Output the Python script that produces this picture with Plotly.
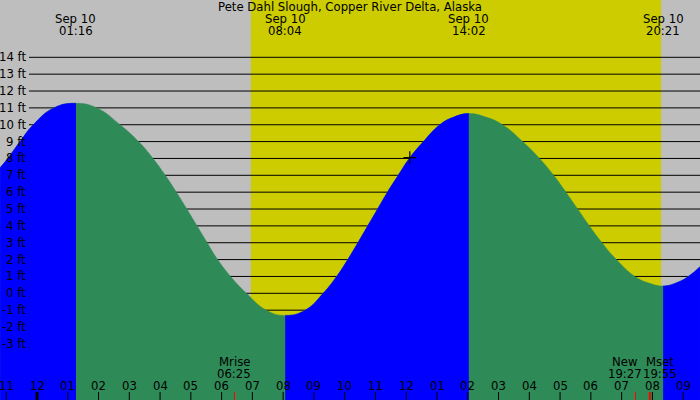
"""
Tide chart for Pete Dahl Slough, Copper River Delta, Alaska (Sep 10).
Hours are counted from midnight on Sep 10.
"""

import plotly.graph_objects as go

# data
TITLE = "Pete Dahl Slough, Copper River Delta, Alaska"

# water level (ft) against time (hours after midnight)
TIDE_T = [-1.20, -0.95, -0.55, -0.12, 0.55, 1.27, 1.94, 2.70, 3.30, 3.77, 4.17, 4.53,
          4.87, 5.20, 5.53, 5.87, 6.29, 6.81, 7.45, 8.07, 8.72, 9.30, 9.74, 10.10,
          10.43, 10.75, 11.07, 11.39, 11.74, 12.10, 12.56, 13.09, 13.53, 14.03, 14.61,
          15.13, 15.78, 16.33, 16.79, 17.19, 17.57, 17.95, 18.36, 18.83, 19.43, 19.92,
          20.35, 20.79, 21.17, 21.55]
TIDE_H = [7.45, 8.0, 9.0, 10.0, 11.0, 11.27, 11.0, 10.0, 9.0, 8.0, 7.0, 6.0,
          5.0, 4.0, 3.0, 2.0, 1.0, 0.0, -1.0, -1.31, -1.0, 0.0, 1.0, 2.0,
          3.0, 4.0, 5.0, 6.0, 7.0, 8.0, 9.0, 10.0, 10.44, 10.66, 10.44,
          10.0, 9.0, 8.0, 7.0, 6.0, 5.0, 4.0, 3.0, 2.0, 1.0, 0.59,
          0.43, 0.63, 1.0, 1.58]

# high / low tide times (labels at the top), alternating high, low, high, low
TIDE_TIMES = ["01:16", "08:04", "14:02", "20:21"]
TIDE_DAY = "Sep 10"

# moon events at the bottom
MOON_NAMES = ["Mrise", "New", "Mset"]
MOON_TIMES = ["06:25", "19:27", "19:55"]

SUNRISE = "06:57"
SUNSET = "20:17"

NOW_TIME = "12:07"
NOW_HEIGHT = 8.05

FT_LEVELS = list(range(-3, 15))
HOUR_TICKS = list(range(-1, 22))
HOUR_LABELS = ["11", "12", "01", "02", "03", "04", "05", "06", "07", "08", "09", "10",
               "11", "12", "01", "02", "03", "04", "05", "06", "07", "08", "09"]

# colours
GRAY = "#bebebe"
YELLOW = "#cccc00"
BLUE = "#0000ff"
GREEN = "#2e8b57"
FONT = dict(family="DejaVu Sans", size=11.7, color="black")

X_RANGE = [-1.2025, 21.547]
Y_RANGE = [-6.33, 17.40]
FLOOR = -8


def hours(hhmm):
    """'hh:mm' -> decimal hours"""
    h, m = hhmm.split(":")
    return int(h) + int(m) / 60


def domain_of(t0, t1):
    """part of the page width covered by the times t0..t1"""
    span = X_RANGE[1] - X_RANGE[0]
    return [(t0 - X_RANGE[0]) / span, (t1 - X_RANGE[0]) / span]


def water(xaxis, col):
    """the whole tide curve filled down to the floor, on the given x axis"""
    base = go.Scatter(x=[TIDE_T[0], TIDE_T[-1]], y=[FLOOR, FLOOR], mode="lines",
                      line=dict(width=0, color=col), xaxis=xaxis, hoverinfo="skip")
    curve = go.Scatter(x=TIDE_T, y=TIDE_H, mode="lines", fill="tonexty", fillcolor=col,
                       line=dict(width=0.5, color=col, shape="spline", smoothing=1.3),
                       xaxis=xaxis)
    return [base, curve]


fig = go.Figure()

# falling water (green) everywhere, then rising water (blue) clipped to
# sub-plots that only cover the rising stretches
fig.add_traces(water("x", GREEN))

extremes = [hours(t) for t in TIDE_TIMES]
rising = [(X_RANGE[0], extremes[0]), (extremes[1], extremes[2]), (extremes[3], X_RANGE[1])]
axes = {}
for i, (t0, t1) in enumerate(rising, start=2):
    fig.add_traces(water(f"x{i}", BLUE))
    axes[f"xaxis{i}"] = dict(domain=domain_of(t0, t1), range=[t0, t1], anchor="y",
                             visible=False, fixedrange=True)

# current level marker, on a full width axis drawn last
last = len(rising) + 2
fig.add_trace(go.Scatter(x=[hours(NOW_TIME)], y=[NOW_HEIGHT], mode="markers",
                         xaxis=f"x{last}",
                         marker=dict(symbol="cross-thin", size=9,
                                     line=dict(width=1.2, color="black"))))
axes[f"xaxis{last}"] = dict(domain=[0, 1], range=X_RANGE, anchor="y", visible=False,
                            fixedrange=True)

shapes = [dict(type="rect", xref="x", yref="paper", x0=hours(SUNRISE), x1=hours(SUNSET),
               y0=0, y1=1, fillcolor=YELLOW, line=dict(width=0), layer="below")]
for lv in FT_LEVELS:
    shapes.append(dict(type="line", xref="paper", yref="y", x0=29 / 700, x1=1, y0=lv, y1=lv,
                       line=dict(color="black", width=1), layer="below"))
# hour ticks (midnight one thicker)
for hv in HOUR_TICKS:
    shapes.append(dict(type="line", xref="x", yref="paper", x0=hv, x1=hv, y0=0, y1=8 / 400,
                       line=dict(color="black", width=3 if hv == 0 else 1)))
for name, tm in zip(MOON_NAMES, MOON_TIMES):
    shapes.append(dict(type="line", xref="x", yref="paper", x0=hours(tm), x1=hours(tm),
                       y0=0, y1=8 / 400,
                       line=dict(color="red", width=2 if name == "Mset" else 1)))

annotations = [dict(text=TITLE, xref="paper", yref="paper", x=0.5, y=1 - 7 / 400,
                    showarrow=False, font=FONT, yanchor="middle")]
for lv in FT_LEVELS:
    annotations.append(dict(text=f"{lv} ft", xref="paper", yref="y", x=27.5 / 700, y=lv,
                            xanchor="right", yanchor="middle", showarrow=False, font=FONT))
for tm in TIDE_TIMES:
    annotations.append(dict(text=TIDE_DAY, xref="x", yref="paper", x=hours(tm), y=1 - 19 / 400,
                            yanchor="middle", showarrow=False, font=FONT))
    annotations.append(dict(text=tm, xref="x", yref="paper", x=hours(tm), y=1 - 31 / 400,
                            yanchor="middle", showarrow=False, font=FONT))
nudge = {"New": -10, "Mset": 10}
for name, tm in zip(MOON_NAMES, MOON_TIMES):
    for txt, py in ((name, 362), (tm, 373.5)):
        annotations.append(dict(text=txt, xref="x", yref="paper", x=hours(tm), y=1 - py / 400,
                                xshift=nudge.get(name, 0), yanchor="middle",
                                showarrow=False, font=FONT))
for hv, lab in zip(HOUR_TICKS, HOUR_LABELS):
    annotations.append(dict(text=lab, xref="x", yref="paper", x=hv, y=1 - 385.5 / 400,
                            yanchor="middle", showarrow=False, font=FONT))

fig.update_layout(
    width=700, height=400,
    margin=dict(l=0, r=0, t=0, b=0),
    paper_bgcolor=GRAY, plot_bgcolor="rgba(0,0,0,0)",
    showlegend=False,
    shapes=shapes,
    annotations=annotations,
    xaxis=dict(range=X_RANGE, visible=False, fixedrange=True),
    yaxis=dict(range=Y_RANGE, showgrid=False, zeroline=False, showticklabels=False,
               fixedrange=True),
    **axes,
)

# the page itself should have no border round the chart
fig.write_html("out.html", config={"displayModeBar": False},
               post_script="document.body.style.margin = '0';")
